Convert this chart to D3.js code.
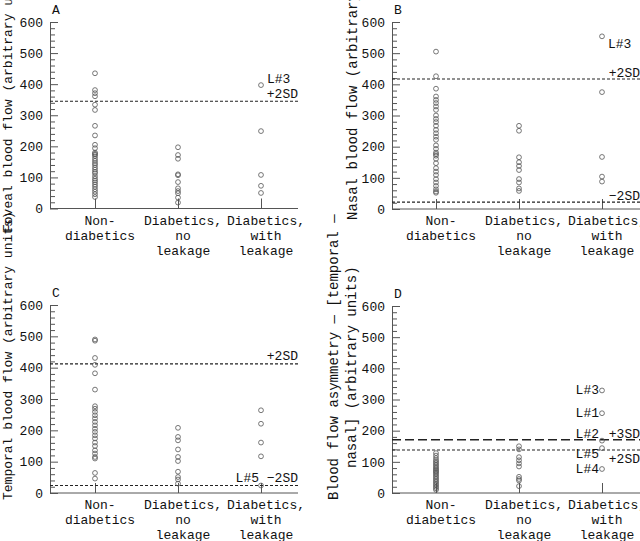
<!DOCTYPE html>
<html><head><meta charset="utf-8">
<script src="https://cdn.jsdelivr.net/npm/d3@7"></script>
<style>
body{margin:0;background:#fff;}
svg{display:block;font-family:"Liberation Mono","Courier New",monospace;}
</style></head>
<body><svg id="chart" width="640" height="541"></svg>
<script>
// ---------- data ----------
const categories = ["Non-diabetics", "Diabetics, no leakage", "Diabetics, with leakage"];
const categoryLines = [["Non-", "diabetics"], ["Diabetics,", "no", "leakage"], ["Diabetics,", "with", "leakage"]];
const yTicks = [0, 100, 200, 300, 400, 500, 600];

const fovealNon = [435, 381, 371, 361, 334, 317, 266, 235, 205, 194, 180, 176, 173, 168, 160, 153, 146, 140, 132, 125, 118, 113, 104, 96, 90, 84, 77, 70, 62, 54, 46, 37];
const fovealNoLeak = [197, 172, 160, 110, 107, 85, 65, 56, 49, 35, 19];
const fovealLeak = [397, 249, 108, 73, 50];
const fovealSDValues = [345];
const fovealSDLabels = ["+2SD"];

const nasalNon = [505, 426, 386, 361, 350, 340, 329, 318, 300, 289, 279, 267, 254, 243, 232, 222, 204, 193, 181, 176, 171, 161, 147, 131, 120, 109, 96, 85, 74, 63, 56, 52];
const nasalNoLeak = [267, 251, 166, 150, 138, 125, 96, 85, 66, 58];
const nasalLeak = [554, 375, 167, 104, 88];
const nasalSDValues = [417, 22];
const nasalSDLabels = ["+2SD", "\u22122SD"];

const temporalNon = [490, 486, 431, 409, 382, 330, 277, 269, 259, 248, 238, 227, 216, 205, 195, 184, 174, 161, 150, 136, 126, 115, 110, 64, 46];
const temporalNoLeak = [208, 179, 168, 139, 115, 102, 68, 51, 43, 30];
const temporalLeak = [264, 221, 161, 117, 24];
const temporalSDValues = [412, 24];
const temporalSDLabels = ["+2SD", "\u22122SD"];

const asymNon = [128, 120, 112, 105, 100, 95, 90, 85, 80, 76, 72, 68, 65, 60, 55, 50, 45, 40, 35, 30, 25, 20, 15, 10];
const asymNoLeak = [150, 140, 115, 105, 95, 85, 52, 45, 40, 22];
const asymLeak = [329, 256, 168, 144, 77];
const asymLeakLabels = ["L#3", "L#1", "L#2", "L#5", "L#4"];
const asymSDValues = [171, 138];
const asymSDLabels = ["+3SD", "+2SD"];

// ---------- drawing ----------
const svg = d3.select("#chart");
const FS = 13;
const axisColor = "#555", textColor = "#111", markColor = "#555";

function panel(cfg) {
  const y = d3.scaleLinear().domain([0, 600]).range([cfg.y0, cfg.y600]);
  const x = d3.scalePoint().domain(categories).range(cfg.xr);
  const g = svg.append("g");

  // y axis major
  const ya = g.append("g").attr("transform", `translate(${cfg.ax},0)`)
    .call(d3.axisLeft(y).tickValues(yTicks).tickSizeInner(-8).tickSizeOuter(0).tickPadding(7));
  ya.selectAll("path,line").attr("stroke", axisColor).attr("stroke-width", 1);
  ya.selectAll("text").attr("font-size", FS).attr("font-family", "Liberation Mono").attr("fill", textColor);
  // minor ticks
  const ym = g.append("g").attr("transform", `translate(${cfg.ax},0)`)
    .call(d3.axisLeft(y).tickValues(d3.range(0, 601, 20).filter(v => v % 100 !== 0)).tickSize(-5).tickFormat(""));
  ym.select(".domain").remove();
  ym.selectAll("line").attr("stroke", axisColor);

  // x axis line
  g.append("line").attr("x1", cfg.ax).attr("x2", cfg.xEnd).attr("y1", y(0)).attr("y2", y(0))
    .attr("stroke", axisColor).attr("stroke-width", 1);
  // x ticks (upward)
  const xa = g.append("g").attr("transform", `translate(0,${y(0)})`)
    .call(d3.axisBottom(x).tickSizeInner(-10).tickSizeOuter(0).tickFormat(""));
  xa.select(".domain").remove();
  xa.selectAll("line").attr("stroke", axisColor);

  // category labels
  categories.forEach((c, i) => {
    const t = g.append("text").attr("font-size", FS).attr("fill", textColor).attr("text-anchor", "middle");
    categoryLines[i].forEach((ln, j) => {
      t.append("tspan").attr("x", x(c) + 5).attr("y", y(0) + 16 + j * 15).text(ln);
    });
  });

  // SD lines
  cfg.sd.forEach((v, i) => {
    const long = cfg.longDash && i === 0;
    g.append("line").attr("x1", cfg.ax).attr("x2", cfg.xEnd).attr("y1", y(v)).attr("y2", y(v))
      .attr("stroke", "#222").attr("stroke-width", long ? 1.6 : 1.1)
      .attr("stroke-dasharray", long ? "9,4" : "3,2");
  });

  // points
  cfg.series.forEach((arr, i) => {
    g.selectAll(null).data(arr).enter().append("circle")
      .attr("cx", x(categories[i])).attr("cy", d => y(d)).attr("r", 2.4)
      .attr("fill", "none").attr("stroke", markColor).attr("stroke-width", 0.8);
  });

  // panel letter
  g.append("text").attr("x", cfg.ax + 2).attr("y", cfg.y600 - 8).attr("font-size", FS).attr("fill", textColor).text(cfg.letter);
  return {x, y, g};
}

function txt(g, x, y, s, anchor, size) {
  g.append("text").attr("x", x).attr("y", y).attr("font-size", size || FS).attr("fill", textColor)
    .attr("text-anchor", anchor || "start").text(s);
}

// Panel A
const A = panel({letter: "A", ax: 50, y0: 208.5, y600: 22, xr: [95, 261], xEnd: 298,
  series: [fovealNon, fovealNoLeak, fovealLeak], sd: fovealSDValues});
txt(A.g, 298, A.y(fovealSDValues[0]) - 3, fovealSDLabels[0], "end");
txt(A.g, A.x(categories[2]) + 6, A.y(fovealLeak[0]) - 2, "L#3");

// Panel B
const B = panel({letter: "B", ax: 392, y0: 209, y600: 22, xr: [436, 602], xEnd: 640,
  series: [nasalNon, nasalNoLeak, nasalLeak], sd: nasalSDValues});
txt(B.g, 640, B.y(nasalSDValues[0]) - 2, nasalSDLabels[0], "end");
txt(B.g, 640, B.y(nasalSDValues[1]) - 2, nasalSDLabels[1], "end");
txt(B.g, B.x(categories[2]) + 6, B.y(nasalLeak[0]) + 12, "L#3");

// Panel C
const C = panel({letter: "C", ax: 50, y0: 493, y600: 305, xr: [95, 261], xEnd: 298,
  series: [temporalNon, temporalNoLeak, temporalLeak], sd: temporalSDValues});
txt(C.g, 298, C.y(temporalSDValues[0]) - 4, temporalSDLabels[0], "end");
txt(C.g, 298, C.y(temporalSDValues[1]) - 3, "L#5 " + temporalSDLabels[1], "end");

// Panel D
const D = panel({letter: "D", ax: 392, y0: 493, y600: 306, xr: [436, 602], xEnd: 640,
  series: [asymNon, asymNoLeak, asymLeak], sd: asymSDValues, longDash: true});
txt(D.g, 640, D.y(asymSDValues[0]) - 2, asymSDLabels[0], "end");
txt(D.g, 640, D.y(asymSDValues[1]) + 13, asymSDLabels[1], "end");
const labelShift = [4, 4, -3, 10, 4];
asymLeak.forEach((v, i) => {
  txt(D.g, D.x(categories[2]) - 3, D.y(v) + labelShift[i], asymLeakLabels[i], "end");
});

// Y axis titles (drawn last so overlaps mimic the composite)
function vtitle(x, y, s, size) {
  svg.append("text").attr("transform", `translate(${x},${y}) rotate(-90)`)
    .attr("font-size", size).attr("fill", textColor).text(s);
}
vtitle(12, 500, "Temporal blood flow (arbitrary units)", 13);
vtitle(12, 232, "Foveal blood flow (arbitrary units)", 13);
vtitle(357, 220, "Nasal blood flow (arbitrary units)", 14);
vtitle(338, 500, "Blood flow asymmetry \u2014 [temporal \u2014", 14);
vtitle(356, 468, "nasal] (arbitrary units)", 14);
</script></body></html>
